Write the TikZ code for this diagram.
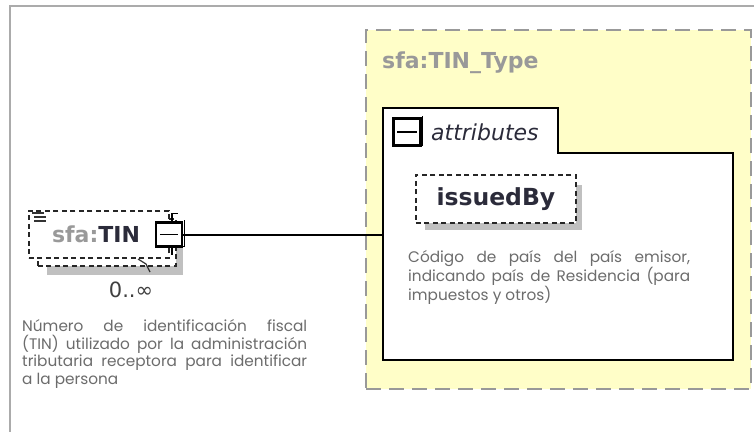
\documentclass[tikz,border=0pt]{standalone}
\usepackage{fontspec}
\setmainfont{DejaVu Sans}
\newfontfamily\descfont{Poppins}
\definecolor{frameg}{HTML}{ABABAB}
\definecolor{yel}{HTML}{FFFEC8}
\definecolor{dashg}{HTML}{999999}
\definecolor{shadowg}{HTML}{C0C0C0}
\definecolor{descg}{HTML}{6C6C6C}
\definecolor{titleg}{HTML}{999999}
\definecolor{darkt}{HTML}{2B2B3A}
\tikzset{
  elemdash/.style={draw=black!85, line width=1.8bp, dash pattern=on 5bp off 3.5bp, fill=white},
  typebox/.style={draw=dashg, line width=2.2bp, dash pattern=on 15bp off 8bp, fill=yel},
  boxline/.style={draw=black, line width=2bp},
  minusbox/.style={draw=black, line width=2.4bp, fill=white, inner sep=0pt},
  desc/.style={font=\descfont\fontsize{15.3bp}{17.8bp}\selectfont, text=descg, align=justify, inner sep=0pt, anchor=north west},
  ttl/.style={font=\bfseries\fontsize{22bp}{26bp}\selectfont, inner sep=0pt}
}
\begin{document}
\begin{tikzpicture}[x=1bp,y=-1bp]
\useasboundingbox (0,0) rectangle (754,432);
\fill[white] (0,0) rectangle (754,432);
% outer frame
\draw[frameg, line width=2.2bp] (754,6) -- (10,6) -- (10,432);

% type box
\node[typebox, anchor=north west, minimum width=385bp, minimum height=359bp] (type) at (365,29) {};
\node[ttl, text=titleg, anchor=west] (typetitle) at (382,63) {sfa:TIN\_Type};

% attributes tab + box
\draw[boxline, fill=white] (383,360) -- (383,108) -- (558,108) -- (558,153) -- (733,153) -- (733,360) -- cycle;
\node[inner sep=0pt, outer sep=0pt, anchor=north west, minimum width=350bp, minimum height=207bp] (attr) at (383,153) {};
\node[minusbox, minimum width=27bp, minimum height=27bp] (attrminus) at (407,132) {};
\draw[black, line width=1.4bp] ([xshift=1bp,yshift=1bp]attrminus.south west) -- ([xshift=1bp,yshift=1bp]attrminus.south east) -- ([xshift=1bp,yshift=1bp]attrminus.north east);
\draw[black, line width=1.8bp] ([xshift=5bp]attrminus.west) -- ([xshift=-5bp]attrminus.east);
\node[font=\itshape\fontsize{22bp}{26bp}\selectfont, text=darkt, inner sep=0pt, anchor=west] (attrlabel) at (431,132) {attributes};

% issuedBy
\fill[shadowg] (425,185) rectangle (582,230);
\node[elemdash, anchor=north west, minimum width=160bp, minimum height=48bp] (issued) at (415,174) {};
\node[ttl, text=darkt, font=\bfseries\fontsize{23.5bp}{26bp}\selectfont] (issuedlabel) at (issued.center) {issuedBy};
\node[desc, text width=282bp] (issueddesc) at (408,250) {Código de país del país emisor,\linebreak indicando país de Residencia (para\linebreak impuestos y otros)};

% TIN element
\fill[shadowg] (47,240) rectangle (183,275);
\node[elemdash, anchor=north west, minimum width=138bp, minimum height=47bp] (tinback) at (37,218) {};
\node[elemdash, anchor=north west, minimum width=140bp, minimum height=47bp] (tin) at (28,210) {};
\draw[black!80, line width=1.2bp] (32,213) -- (44,213) (34,217) -- (46,217) (34,221) -- (46,221);
\node[ttl, anchor=center] (tinlabel) at (96,234) {\textcolor{titleg}{sfa:}\textcolor{darkt}{TIN}};
\draw[black!80, line width=1.2bp] (138,259) -- (146,264) -- (150,272);
\node[minusbox, minimum width=26bp, minimum height=24bp] (tinminus) at (169,234.5) {};
\draw[black, line width=1.4bp] ([xshift=1bp,yshift=1bp]tinminus.south west) -- ([xshift=1bp,yshift=1bp]tinminus.south east) -- ([xshift=1bp,yshift=1bp]tinminus.north east);
\draw[black, line width=1.8bp] ([xshift=5bp]tinminus.west) -- ([xshift=-5bp]tinminus.east);
\draw[black, line width=1.6bp] (tinminus.north) ++(3,0) -- ++(0,-8) -- ++(6,0);
\draw[black, line width=1.6bp] (tinminus.south) ++(3,0) -- ++(0,7);
\node[font=\fontsize{21bp}{24bp}\selectfont, text=black!75, inner sep=0pt] (mult) at (131,290) {0..∞};
\node[desc, text width=285bp] (tindesc) at (22,319) {Número de identificación fiscal\linebreak (TIN) utilizado por la administración\linebreak tributaria receptora para identificar\linebreak a la persona};

% connector
\draw[black, line width=2bp] (tinminus.east) -- (attr.west |- tinminus.east);
\end{tikzpicture}
\end{document}
